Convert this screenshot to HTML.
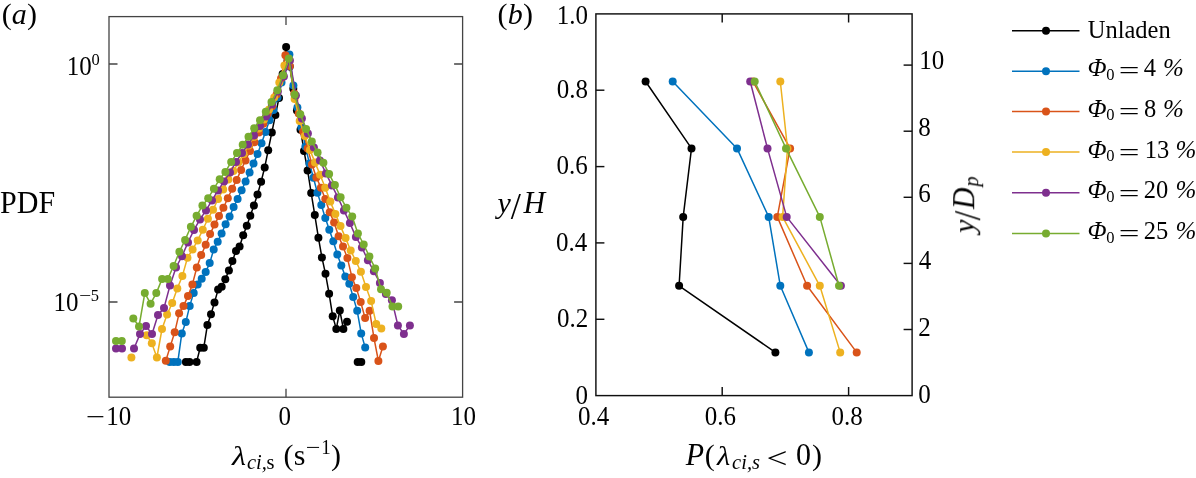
<!DOCTYPE html>
<html><head><meta charset="utf-8"><title>Figure</title>
<style>html,body{margin:0;padding:0;background:#fff}body{width:1196px;height:478px;overflow:hidden}</style></head>
<body>
<svg width="1196" height="478" viewBox="0 0 1196 478" style="display:block">
<rect width="1196" height="478" fill="#fff"/>
<polyline fill="none" stroke="#000000" stroke-width="1.50" stroke-linejoin="round" points="185.9,361.9 189.5,361.9"/>
<polyline fill="none" stroke="#000000" stroke-width="1.50" stroke-linejoin="round" points="196.6,361.9 200.2,347.7 203.8,347.7 207.4,324.9 211.0,314.3 214.5,302.4 218.1,289.6 221.7,286.7 225.3,279.2 228.9,270.4 232.4,260.9 236.0,250.9 239.6,246.4 243.2,235.3 246.8,225.8 250.3,215.8 253.9,205.6 257.5,194.6 261.1,181.8 264.7,167.4 268.2,150.2 271.8,132.6 275.4,115.1 279.0,97.9 282.6,73.9 286.1,46.9 289.7,66.4 293.3,88.8 296.9,110.4 300.5,129.7 304.0,150.9 307.6,170.4 311.2,193.1 314.8,215.1 318.4,237.7 321.9,257.4 325.5,273.8 329.1,293.7 332.7,316.3 336.3,328.9 339.8,310.5 343.4,328.9 347.0,321.7"/>
<polyline fill="none" stroke="#000000" stroke-width="1.50" stroke-linejoin="round" points="357.7,361.9 361.3,361.9"/>
<g fill="#000000"><circle cx="185.9" cy="361.9" r="4.0"/><circle cx="189.5" cy="361.9" r="4.0"/><circle cx="196.6" cy="361.9" r="4.0"/><circle cx="200.2" cy="347.7" r="4.0"/><circle cx="203.8" cy="347.7" r="4.0"/><circle cx="207.4" cy="324.9" r="4.0"/><circle cx="211.0" cy="314.3" r="4.0"/><circle cx="214.5" cy="302.4" r="4.0"/><circle cx="218.1" cy="289.6" r="4.0"/><circle cx="221.7" cy="286.7" r="4.0"/><circle cx="225.3" cy="279.2" r="4.0"/><circle cx="228.9" cy="270.4" r="4.0"/><circle cx="232.4" cy="260.9" r="4.0"/><circle cx="236.0" cy="250.9" r="4.0"/><circle cx="239.6" cy="246.4" r="4.0"/><circle cx="243.2" cy="235.3" r="4.0"/><circle cx="246.8" cy="225.8" r="4.0"/><circle cx="250.3" cy="215.8" r="4.0"/><circle cx="253.9" cy="205.6" r="4.0"/><circle cx="257.5" cy="194.6" r="4.0"/><circle cx="261.1" cy="181.8" r="4.0"/><circle cx="264.7" cy="167.4" r="4.0"/><circle cx="268.2" cy="150.2" r="4.0"/><circle cx="271.8" cy="132.6" r="4.0"/><circle cx="275.4" cy="115.1" r="4.0"/><circle cx="279.0" cy="97.9" r="4.0"/><circle cx="282.6" cy="73.9" r="4.0"/><circle cx="286.1" cy="46.9" r="4.0"/><circle cx="289.7" cy="66.4" r="4.0"/><circle cx="293.3" cy="88.8" r="4.0"/><circle cx="296.9" cy="110.4" r="4.0"/><circle cx="300.5" cy="129.7" r="4.0"/><circle cx="304.0" cy="150.9" r="4.0"/><circle cx="307.6" cy="170.4" r="4.0"/><circle cx="311.2" cy="193.1" r="4.0"/><circle cx="314.8" cy="215.1" r="4.0"/><circle cx="318.4" cy="237.7" r="4.0"/><circle cx="321.9" cy="257.4" r="4.0"/><circle cx="325.5" cy="273.8" r="4.0"/><circle cx="329.1" cy="293.7" r="4.0"/><circle cx="332.7" cy="316.3" r="4.0"/><circle cx="336.3" cy="328.9" r="4.0"/><circle cx="339.8" cy="310.5" r="4.0"/><circle cx="343.4" cy="328.9" r="4.0"/><circle cx="347.0" cy="321.7" r="4.0"/><circle cx="357.7" cy="361.9" r="4.0"/><circle cx="361.3" cy="361.9" r="4.0"/></g>
<polyline fill="none" stroke="#0072BD" stroke-width="1.50" stroke-linejoin="round" points="169.8,361.9 173.8,361.9 177.8,361.9 181.8,333.4 185.8,322.1 189.7,305.9 193.7,292.9 197.7,284.4 201.7,278.8 205.7,271.9 209.7,263.1 213.7,249.5 217.7,241.7 221.6,233.4 225.6,224.3 229.6,216.6 233.6,207.0 237.6,199.0 241.6,190.2 245.6,181.4 249.6,172.6 253.5,163.4 257.5,153.9 261.5,143.2 265.5,131.9 269.5,120.2 273.5,109.9 277.5,97.4 281.5,82.4 285.5,66.4 289.4,54.4 293.4,85.4 297.4,107.4 301.4,127.4 305.4,146.4 309.4,163.4 313.4,177.7 317.4,192.7 321.3,205.1 325.3,218.0 329.3,229.7 333.3,241.2 337.3,254.4 341.3,265.4 345.3,276.4 349.3,283.8 353.2,297.1 357.2,310.8 361.2,333.4 365.2,347.6"/>
<g fill="#0072BD"><circle cx="169.8" cy="361.9" r="4.0"/><circle cx="173.8" cy="361.9" r="4.0"/><circle cx="177.8" cy="361.9" r="4.0"/><circle cx="181.8" cy="333.4" r="4.0"/><circle cx="185.8" cy="322.1" r="4.0"/><circle cx="189.7" cy="305.9" r="4.0"/><circle cx="193.7" cy="292.9" r="4.0"/><circle cx="197.7" cy="284.4" r="4.0"/><circle cx="201.7" cy="278.8" r="4.0"/><circle cx="205.7" cy="271.9" r="4.0"/><circle cx="209.7" cy="263.1" r="4.0"/><circle cx="213.7" cy="249.5" r="4.0"/><circle cx="217.7" cy="241.7" r="4.0"/><circle cx="221.6" cy="233.4" r="4.0"/><circle cx="225.6" cy="224.3" r="4.0"/><circle cx="229.6" cy="216.6" r="4.0"/><circle cx="233.6" cy="207.0" r="4.0"/><circle cx="237.6" cy="199.0" r="4.0"/><circle cx="241.6" cy="190.2" r="4.0"/><circle cx="245.6" cy="181.4" r="4.0"/><circle cx="249.6" cy="172.6" r="4.0"/><circle cx="253.5" cy="163.4" r="4.0"/><circle cx="257.5" cy="153.9" r="4.0"/><circle cx="261.5" cy="143.2" r="4.0"/><circle cx="265.5" cy="131.9" r="4.0"/><circle cx="269.5" cy="120.2" r="4.0"/><circle cx="273.5" cy="109.9" r="4.0"/><circle cx="277.5" cy="97.4" r="4.0"/><circle cx="281.5" cy="82.4" r="4.0"/><circle cx="285.5" cy="66.4" r="4.0"/><circle cx="289.4" cy="54.4" r="4.0"/><circle cx="293.4" cy="85.4" r="4.0"/><circle cx="297.4" cy="107.4" r="4.0"/><circle cx="301.4" cy="127.4" r="4.0"/><circle cx="305.4" cy="146.4" r="4.0"/><circle cx="309.4" cy="163.4" r="4.0"/><circle cx="313.4" cy="177.7" r="4.0"/><circle cx="317.4" cy="192.7" r="4.0"/><circle cx="321.3" cy="205.1" r="4.0"/><circle cx="325.3" cy="218.0" r="4.0"/><circle cx="329.3" cy="229.7" r="4.0"/><circle cx="333.3" cy="241.2" r="4.0"/><circle cx="337.3" cy="254.4" r="4.0"/><circle cx="341.3" cy="265.4" r="4.0"/><circle cx="345.3" cy="276.4" r="4.0"/><circle cx="349.3" cy="283.8" r="4.0"/><circle cx="353.2" cy="297.1" r="4.0"/><circle cx="357.2" cy="310.8" r="4.0"/><circle cx="361.2" cy="333.4" r="4.0"/><circle cx="365.2" cy="347.6" r="4.0"/></g>
<polyline fill="none" stroke="#D95319" stroke-width="1.50" stroke-linejoin="round" points="165.8,360.8 170.2,346.6 174.7,332.3 179.1,313.3 183.5,305.9 188.0,296.1 192.4,284.4 196.8,267.5 201.2,255.1 205.7,244.8 210.1,234.1 214.5,224.6 219.0,216.1 223.4,207.8 227.8,198.2 232.2,188.7 236.7,179.9 241.1,169.9 245.5,160.5 250.0,150.9 254.4,142.2 258.8,132.6 263.3,123.8 267.7,113.6 272.1,106.3 276.6,94.4 281.0,78.4 285.4,55.2 289.8,65.9 294.3,93.4 298.7,113.4 303.1,131.4 307.6,148.4 312.0,164.4 316.4,177.4 320.9,187.7 325.3,199.0 329.7,212.2 334.1,222.4 338.6,236.2 343.0,246.4 347.4,258.1 351.9,277.2 356.3,288.1 360.7,302.1 365.1,318.0 369.6,310.8 374.0,338.1 378.4,361.0 382.9,346.5"/>
<g fill="#D95319"><circle cx="165.8" cy="360.8" r="4.0"/><circle cx="170.2" cy="346.6" r="4.0"/><circle cx="174.7" cy="332.3" r="4.0"/><circle cx="179.1" cy="313.3" r="4.0"/><circle cx="183.5" cy="305.9" r="4.0"/><circle cx="188.0" cy="296.1" r="4.0"/><circle cx="192.4" cy="284.4" r="4.0"/><circle cx="196.8" cy="267.5" r="4.0"/><circle cx="201.2" cy="255.1" r="4.0"/><circle cx="205.7" cy="244.8" r="4.0"/><circle cx="210.1" cy="234.1" r="4.0"/><circle cx="214.5" cy="224.6" r="4.0"/><circle cx="219.0" cy="216.1" r="4.0"/><circle cx="223.4" cy="207.8" r="4.0"/><circle cx="227.8" cy="198.2" r="4.0"/><circle cx="232.2" cy="188.7" r="4.0"/><circle cx="236.7" cy="179.9" r="4.0"/><circle cx="241.1" cy="169.9" r="4.0"/><circle cx="245.5" cy="160.5" r="4.0"/><circle cx="250.0" cy="150.9" r="4.0"/><circle cx="254.4" cy="142.2" r="4.0"/><circle cx="258.8" cy="132.6" r="4.0"/><circle cx="263.3" cy="123.8" r="4.0"/><circle cx="267.7" cy="113.6" r="4.0"/><circle cx="272.1" cy="106.3" r="4.0"/><circle cx="276.6" cy="94.4" r="4.0"/><circle cx="281.0" cy="78.4" r="4.0"/><circle cx="285.4" cy="55.2" r="4.0"/><circle cx="289.8" cy="65.9" r="4.0"/><circle cx="294.3" cy="93.4" r="4.0"/><circle cx="298.7" cy="113.4" r="4.0"/><circle cx="303.1" cy="131.4" r="4.0"/><circle cx="307.6" cy="148.4" r="4.0"/><circle cx="312.0" cy="164.4" r="4.0"/><circle cx="316.4" cy="177.4" r="4.0"/><circle cx="320.9" cy="187.7" r="4.0"/><circle cx="325.3" cy="199.0" r="4.0"/><circle cx="329.7" cy="212.2" r="4.0"/><circle cx="334.1" cy="222.4" r="4.0"/><circle cx="338.6" cy="236.2" r="4.0"/><circle cx="343.0" cy="246.4" r="4.0"/><circle cx="347.4" cy="258.1" r="4.0"/><circle cx="351.9" cy="277.2" r="4.0"/><circle cx="356.3" cy="288.1" r="4.0"/><circle cx="360.7" cy="302.1" r="4.0"/><circle cx="365.1" cy="318.0" r="4.0"/><circle cx="369.6" cy="310.8" r="4.0"/><circle cx="374.0" cy="338.1" r="4.0"/><circle cx="378.4" cy="361.0" r="4.0"/><circle cx="382.9" cy="346.5" r="4.0"/></g>
<polyline fill="none" stroke="#EDB120" stroke-width="1.50" stroke-linejoin="round" points="146.7,335.3 151.8,343.2 156.9,357.5 162.0,329.0 167.1,314.6 172.2,303.0 177.3,288.5 182.4,275.9 187.5,257.7 192.6,249.5 197.7,240.4 202.8,229.7 207.9,218.8 213.0,209.7 218.1,199.0 223.2,189.4 228.3,179.5 233.4,171.1 238.5,162.4 243.6,153.9 248.7,145.4 253.8,136.9 258.9,128.4 264.0,119.4 269.1,109.4 274.2,97.4 279.3,82.4 284.4,65.4 289.5,60.9 294.6,98.9 299.7,120.9 304.8,135.9 309.9,149.9 315.0,162.4 320.1,174.8 325.2,187.7 330.3,201.6 335.4,213.9 340.5,226.1 345.6,238.1 350.7,250.5 355.8,261.0 360.9,271.7 366.0,287.0 371.1,301.0 376.2,323.9 381.3,328.6"/>
<g fill="#EDB120"><circle cx="131.4" cy="357.5" r="4.0"/><circle cx="146.7" cy="335.3" r="4.0"/><circle cx="151.8" cy="343.2" r="4.0"/><circle cx="156.9" cy="357.5" r="4.0"/><circle cx="162.0" cy="329.0" r="4.0"/><circle cx="167.1" cy="314.6" r="4.0"/><circle cx="172.2" cy="303.0" r="4.0"/><circle cx="177.3" cy="288.5" r="4.0"/><circle cx="182.4" cy="275.9" r="4.0"/><circle cx="187.5" cy="257.7" r="4.0"/><circle cx="192.6" cy="249.5" r="4.0"/><circle cx="197.7" cy="240.4" r="4.0"/><circle cx="202.8" cy="229.7" r="4.0"/><circle cx="207.9" cy="218.8" r="4.0"/><circle cx="213.0" cy="209.7" r="4.0"/><circle cx="218.1" cy="199.0" r="4.0"/><circle cx="223.2" cy="189.4" r="4.0"/><circle cx="228.3" cy="179.5" r="4.0"/><circle cx="233.4" cy="171.1" r="4.0"/><circle cx="238.5" cy="162.4" r="4.0"/><circle cx="243.6" cy="153.9" r="4.0"/><circle cx="248.7" cy="145.4" r="4.0"/><circle cx="253.8" cy="136.9" r="4.0"/><circle cx="258.9" cy="128.4" r="4.0"/><circle cx="264.0" cy="119.4" r="4.0"/><circle cx="269.1" cy="109.4" r="4.0"/><circle cx="274.2" cy="97.4" r="4.0"/><circle cx="279.3" cy="82.4" r="4.0"/><circle cx="284.4" cy="65.4" r="4.0"/><circle cx="289.5" cy="60.9" r="4.0"/><circle cx="294.6" cy="98.9" r="4.0"/><circle cx="299.7" cy="120.9" r="4.0"/><circle cx="304.8" cy="135.9" r="4.0"/><circle cx="309.9" cy="149.9" r="4.0"/><circle cx="315.0" cy="162.4" r="4.0"/><circle cx="320.1" cy="174.8" r="4.0"/><circle cx="325.2" cy="187.7" r="4.0"/><circle cx="330.3" cy="201.6" r="4.0"/><circle cx="335.4" cy="213.9" r="4.0"/><circle cx="340.5" cy="226.1" r="4.0"/><circle cx="345.6" cy="238.1" r="4.0"/><circle cx="350.7" cy="250.5" r="4.0"/><circle cx="355.8" cy="261.0" r="4.0"/><circle cx="360.9" cy="271.7" r="4.0"/><circle cx="366.0" cy="287.0" r="4.0"/><circle cx="371.1" cy="301.0" r="4.0"/><circle cx="376.2" cy="323.9" r="4.0"/><circle cx="381.3" cy="328.6" r="4.0"/></g>
<polyline fill="none" stroke="#7E2F8E" stroke-width="1.50" stroke-linejoin="round" points="116.0,348.5 122.0,348.5"/>
<polyline fill="none" stroke="#7E2F8E" stroke-width="1.50" stroke-linejoin="round" points="134.0,348.5 140.0,334.1 146.0,326.0 152.0,334.1 158.0,315.1 164.0,307.9 170.0,285.5 176.0,267.5 182.0,256.2 188.0,242.4 194.0,229.9 200.0,219.4 206.0,210.4 212.0,200.4 218.0,190.4 224.0,181.4 230.0,172.4 236.0,161.9 242.0,153.0 248.0,144.6 254.0,135.6 260.0,126.0 266.0,116.4 271.9,104.4 277.9,91.4 283.9,76.4 289.9,60.4 295.9,95.4 301.9,118.4 307.9,133.4 313.9,147.4 319.9,160.4 325.9,173.4 331.9,185.4 337.9,197.4 343.9,210.4 349.9,223.1 355.9,236.9 361.9,247.4 367.9,260.3 373.9,271.3 379.9,283.0 385.9,293.9 391.9,300.2 397.9,325.5 403.9,333.9 409.9,325.5"/>
<g fill="#7E2F8E"><circle cx="116.0" cy="348.5" r="4.0"/><circle cx="122.0" cy="348.5" r="4.0"/><circle cx="134.0" cy="348.5" r="4.0"/><circle cx="140.0" cy="334.1" r="4.0"/><circle cx="146.0" cy="326.0" r="4.0"/><circle cx="152.0" cy="334.1" r="4.0"/><circle cx="158.0" cy="315.1" r="4.0"/><circle cx="164.0" cy="307.9" r="4.0"/><circle cx="170.0" cy="285.5" r="4.0"/><circle cx="176.0" cy="267.5" r="4.0"/><circle cx="182.0" cy="256.2" r="4.0"/><circle cx="188.0" cy="242.4" r="4.0"/><circle cx="194.0" cy="229.9" r="4.0"/><circle cx="200.0" cy="219.4" r="4.0"/><circle cx="206.0" cy="210.4" r="4.0"/><circle cx="212.0" cy="200.4" r="4.0"/><circle cx="218.0" cy="190.4" r="4.0"/><circle cx="224.0" cy="181.4" r="4.0"/><circle cx="230.0" cy="172.4" r="4.0"/><circle cx="236.0" cy="161.9" r="4.0"/><circle cx="242.0" cy="153.0" r="4.0"/><circle cx="248.0" cy="144.6" r="4.0"/><circle cx="254.0" cy="135.6" r="4.0"/><circle cx="260.0" cy="126.0" r="4.0"/><circle cx="266.0" cy="116.4" r="4.0"/><circle cx="271.9" cy="104.4" r="4.0"/><circle cx="277.9" cy="91.4" r="4.0"/><circle cx="283.9" cy="76.4" r="4.0"/><circle cx="289.9" cy="60.4" r="4.0"/><circle cx="295.9" cy="95.4" r="4.0"/><circle cx="301.9" cy="118.4" r="4.0"/><circle cx="307.9" cy="133.4" r="4.0"/><circle cx="313.9" cy="147.4" r="4.0"/><circle cx="319.9" cy="160.4" r="4.0"/><circle cx="325.9" cy="173.4" r="4.0"/><circle cx="331.9" cy="185.4" r="4.0"/><circle cx="337.9" cy="197.4" r="4.0"/><circle cx="343.9" cy="210.4" r="4.0"/><circle cx="349.9" cy="223.1" r="4.0"/><circle cx="355.9" cy="236.9" r="4.0"/><circle cx="361.9" cy="247.4" r="4.0"/><circle cx="367.9" cy="260.3" r="4.0"/><circle cx="373.9" cy="271.3" r="4.0"/><circle cx="379.9" cy="283.0" r="4.0"/><circle cx="385.9" cy="293.9" r="4.0"/><circle cx="391.9" cy="300.2" r="4.0"/><circle cx="397.9" cy="325.5" r="4.0"/><circle cx="403.9" cy="333.9" r="4.0"/><circle cx="409.9" cy="325.5" r="4.0"/></g>
<polyline fill="none" stroke="#77AC30" stroke-width="1.50" stroke-linejoin="round" points="116.0,341.1 121.8,341.1"/>
<polyline fill="none" stroke="#77AC30" stroke-width="1.50" stroke-linejoin="round" points="133.3,318.4 139.0,326.5 144.8,293.1 150.6,303.7 156.3,293.1 162.1,278.9 167.8,278.9 173.6,266.0 179.4,251.8 185.1,239.9 190.9,226.8 196.6,215.8 202.4,205.6 208.2,198.2 213.9,188.7 219.7,179.2 225.4,171.9 231.2,161.9 237.0,153.1 242.7,144.8 248.5,136.7 254.2,128.2 260.0,120.2 265.8,111.8 271.5,102.1 277.3,90.3 283.0,75.2 288.8,58.5 294.6,94.7 300.3,114.3 306.1,129.0 311.8,141.4 317.6,152.4 323.4,162.7 329.1,174.1 334.9,185.1 340.6,197.2 346.4,207.8 352.2,216.6 357.9,233.4 363.7,244.5 369.4,256.6 375.2,268.4 381.0,289.3 386.7,292.8 392.5,306.4 398.2,306.4"/>
<g fill="#77AC30"><circle cx="116.0" cy="341.1" r="4.0"/><circle cx="121.8" cy="341.1" r="4.0"/><circle cx="133.3" cy="318.4" r="4.0"/><circle cx="139.0" cy="326.5" r="4.0"/><circle cx="144.8" cy="293.1" r="4.0"/><circle cx="150.6" cy="303.7" r="4.0"/><circle cx="156.3" cy="293.1" r="4.0"/><circle cx="162.1" cy="278.9" r="4.0"/><circle cx="167.8" cy="278.9" r="4.0"/><circle cx="173.6" cy="266.0" r="4.0"/><circle cx="179.4" cy="251.8" r="4.0"/><circle cx="185.1" cy="239.9" r="4.0"/><circle cx="190.9" cy="226.8" r="4.0"/><circle cx="196.6" cy="215.8" r="4.0"/><circle cx="202.4" cy="205.6" r="4.0"/><circle cx="208.2" cy="198.2" r="4.0"/><circle cx="213.9" cy="188.7" r="4.0"/><circle cx="219.7" cy="179.2" r="4.0"/><circle cx="225.4" cy="171.9" r="4.0"/><circle cx="231.2" cy="161.9" r="4.0"/><circle cx="237.0" cy="153.1" r="4.0"/><circle cx="242.7" cy="144.8" r="4.0"/><circle cx="248.5" cy="136.7" r="4.0"/><circle cx="254.2" cy="128.2" r="4.0"/><circle cx="260.0" cy="120.2" r="4.0"/><circle cx="265.8" cy="111.8" r="4.0"/><circle cx="271.5" cy="102.1" r="4.0"/><circle cx="277.3" cy="90.3" r="4.0"/><circle cx="283.0" cy="75.2" r="4.0"/><circle cx="288.8" cy="58.5" r="4.0"/><circle cx="294.6" cy="94.7" r="4.0"/><circle cx="300.3" cy="114.3" r="4.0"/><circle cx="306.1" cy="129.0" r="4.0"/><circle cx="311.8" cy="141.4" r="4.0"/><circle cx="317.6" cy="152.4" r="4.0"/><circle cx="323.4" cy="162.7" r="4.0"/><circle cx="329.1" cy="174.1" r="4.0"/><circle cx="334.9" cy="185.1" r="4.0"/><circle cx="340.6" cy="197.2" r="4.0"/><circle cx="346.4" cy="207.8" r="4.0"/><circle cx="352.2" cy="216.6" r="4.0"/><circle cx="357.9" cy="233.4" r="4.0"/><circle cx="363.7" cy="244.5" r="4.0"/><circle cx="369.4" cy="256.6" r="4.0"/><circle cx="375.2" cy="268.4" r="4.0"/><circle cx="381.0" cy="289.3" r="4.0"/><circle cx="386.7" cy="292.8" r="4.0"/><circle cx="392.5" cy="306.4" r="4.0"/><circle cx="398.2" cy="306.4" r="4.0"/></g>
<g stroke="#444444" stroke-width="1.3" fill="none">
<rect x="109.0" y="16.6" width="353.6" height="380.6"/>
<path d="M286.0 16.6v8.5 M286.0 397.2v-8.5"/>
<path d="M109.0 64.0h8.5 M462.6 64.0h-8.5"/>
<path d="M109.0 302.0h8.5 M462.6 302.0h-8.5"/>
</g>
<polyline fill="none" stroke="#000000" stroke-width="1.50" stroke-linejoin="round" points="645.6,81.5 691.5,148.4 683.2,216.9 679.1,285.8 775.4,352.4"/>
<g fill="#000000"><circle cx="645.6" cy="81.5" r="4.0"/><circle cx="691.5" cy="148.4" r="4.0"/><circle cx="683.2" cy="216.9" r="4.0"/><circle cx="679.1" cy="285.8" r="4.0"/><circle cx="775.4" cy="352.4" r="4.0"/></g>
<polyline fill="none" stroke="#0072BD" stroke-width="1.50" stroke-linejoin="round" points="672.7,81.5 737.0,148.4 768.7,216.9 780.3,285.8 808.9,352.4"/>
<g fill="#0072BD"><circle cx="672.7" cy="81.5" r="4.0"/><circle cx="737.0" cy="148.4" r="4.0"/><circle cx="768.7" cy="216.9" r="4.0"/><circle cx="780.3" cy="285.8" r="4.0"/><circle cx="808.9" cy="352.4" r="4.0"/></g>
<polyline fill="none" stroke="#D95319" stroke-width="1.50" stroke-linejoin="round" points="752.9,81.5 790.1,148.4 777.3,216.9 807.1,285.8 856.7,352.4"/>
<g fill="#D95319"><circle cx="752.9" cy="81.5" r="4.0"/><circle cx="790.1" cy="148.4" r="4.0"/><circle cx="777.3" cy="216.9" r="4.0"/><circle cx="807.1" cy="285.8" r="4.0"/><circle cx="856.7" cy="352.4" r="4.0"/></g>
<polyline fill="none" stroke="#EDB120" stroke-width="1.50" stroke-linejoin="round" points="780.3,81.5 787.5,148.4 782.6,216.9 819.8,285.8 840.2,352.4"/>
<g fill="#EDB120"><circle cx="780.3" cy="81.5" r="4.0"/><circle cx="787.5" cy="148.4" r="4.0"/><circle cx="782.6" cy="216.9" r="4.0"/><circle cx="819.8" cy="285.8" r="4.0"/><circle cx="840.2" cy="352.4" r="4.0"/></g>
<polyline fill="none" stroke="#7E2F8E" stroke-width="1.50" stroke-linejoin="round" points="750.2,81.5 767.5,148.4 786.7,216.9 840.9,285.8"/>
<g fill="#7E2F8E"><circle cx="750.2" cy="81.5" r="4.0"/><circle cx="767.5" cy="148.4" r="4.0"/><circle cx="786.7" cy="216.9" r="4.0"/><circle cx="840.9" cy="285.8" r="4.0"/></g>
<polyline fill="none" stroke="#77AC30" stroke-width="1.50" stroke-linejoin="round" points="754.7,81.5 786.0,148.4 819.8,216.9 839.0,285.8"/>
<g fill="#77AC30"><circle cx="754.7" cy="81.5" r="4.0"/><circle cx="786.0" cy="148.4" r="4.0"/><circle cx="819.8" cy="216.9" r="4.0"/><circle cx="839.0" cy="285.8" r="4.0"/></g>
<g stroke="#101010" stroke-width="1.45" fill="none">
<rect x="595.9" y="13.9" width="316.2" height="381.7"/>
<path d="M722.2 13.9v8.5 M722.2 395.6v-8.5"/>
<path d="M848.6 13.9v8.5 M848.6 395.6v-8.5"/>
<path d="M595.9 319.3h8.5"/>
<path d="M595.9 242.9h8.5"/>
<path d="M595.9 166.6h8.5"/>
<path d="M595.9 90.2h8.5"/>
<path d="M912.1 329.5h-8.5"/>
<path d="M912.1 263.4h-8.5"/>
<path d="M912.1 197.3h-8.5"/>
<path d="M912.1 131.2h-8.5"/>
<path d="M912.1 65.1h-8.5"/>
</g>
<path d="M1012 30.7H1079.5" stroke="#000000" stroke-width="1.50"/><circle cx="1046" cy="30.7" r="4.0" fill="#000000"/>
<path d="M1012 71.3H1079.5" stroke="#0072BD" stroke-width="1.50"/><circle cx="1046" cy="71.3" r="4.0" fill="#0072BD"/>
<path d="M1012 111.6H1079.5" stroke="#D95319" stroke-width="1.50"/><circle cx="1046" cy="111.6" r="4.0" fill="#D95319"/>
<path d="M1012 152.1H1079.5" stroke="#EDB120" stroke-width="1.50"/><circle cx="1046" cy="152.1" r="4.0" fill="#EDB120"/>
<path d="M1012 192.8H1079.5" stroke="#7E2F8E" stroke-width="1.50"/><circle cx="1046" cy="192.8" r="4.0" fill="#7E2F8E"/>
<path d="M1012 233.4H1079.5" stroke="#77AC30" stroke-width="1.50"/><circle cx="1046" cy="233.4" r="4.0" fill="#77AC30"/>
<g font-family="'Liberation Serif','Times New Roman',serif" fill="#000" opacity="0.999">
<text transform="translate(1.65,24.30) scale(1.000,1.000)" font-size="30">(</text>
<text transform="translate(11.65,24.30) scale(1.000,1.000)" font-size="30" font-style="italic">a</text>
<text transform="translate(27.00,24.30) scale(1.000,1.000)" font-size="30">)</text>
<text transform="translate(497.55,24.30) scale(1.000,1.000)" font-size="30">(</text>
<text transform="translate(507.80,24.30) scale(1.000,1.000)" font-size="30" font-style="italic">b</text>
<text transform="translate(522.90,24.30) scale(1.000,1.000)" font-size="30">)</text>
<text transform="translate(0.05,213.00) scale(1.000,1.050)" font-size="30">PDF</text>
<text transform="translate(66.65,74.60) scale(1.000,1.050)" font-size="25">10</text>
<text transform="translate(91.50,65.00) scale(1.000,1.050)" font-size="16.5">0</text>
<text transform="translate(53.45,310.50) scale(1.000,1.050)" font-size="25">10</text>
<text transform="translate(78.92,300.90) scale(1.303,1.000)" font-size="16.5">−</text>
<text transform="translate(90.70,300.90) scale(1.000,1.050)" font-size="16.5">5</text>
<text transform="translate(85.70,425.40) scale(1.362,1.000)" font-size="25">−</text>
<text transform="translate(106.25,425.40) scale(1.000,1.050)" font-size="25">10</text>
<text transform="translate(278.60,425.40) scale(1.000,1.050)" font-size="25">0</text>
<text transform="translate(450.95,425.40) scale(1.000,1.050)" font-size="25">10</text>
<text transform="translate(232.00,464.90) scale(1.200,1.000)" font-size="27" font-style="italic">λ</text>
<text transform="translate(247.00,468.80) scale(1.000,1.000)" font-size="20.5" font-style="italic">ci,</text>
<text transform="translate(266.55,468.80) scale(1.000,1.000)" font-size="20.5">s</text>
<text transform="translate(283.55,464.90) scale(1.000,1.000)" font-size="30">(</text>
<text transform="translate(293.65,464.90) scale(1.000,1.000)" font-size="30">s</text>
<text transform="translate(305.74,454.00) scale(1.263,1.000)" font-size="20.5">−</text>
<text transform="translate(321.25,454.00) scale(1.000,1.050)" font-size="19">1</text>
<text transform="translate(331.00,464.90) scale(1.000,1.000)" font-size="30">)</text>
<text transform="translate(575.50,403.80) scale(1.000,1.050)" font-size="25">0</text>
<text transform="translate(557.00,326.94) scale(1.000,1.050)" font-size="25">0.2</text>
<text transform="translate(556.00,250.68) scale(1.000,1.050)" font-size="25">0.4</text>
<text transform="translate(556.50,174.42) scale(1.000,1.050)" font-size="25">0.6</text>
<text transform="translate(556.75,98.16) scale(1.000,1.050)" font-size="25">0.8</text>
<text transform="translate(556.75,23.50) scale(1.000,1.050)" font-size="25">1.0</text>
<text transform="translate(918.30,402.50) scale(1.000,1.050)" font-size="25">0</text>
<text transform="translate(918.30,335.76) scale(1.000,1.050)" font-size="25">2</text>
<text transform="translate(918.80,269.02) scale(1.000,1.050)" font-size="25">4</text>
<text transform="translate(918.30,202.28) scale(1.000,1.050)" font-size="25">6</text>
<text transform="translate(918.30,135.54) scale(1.000,1.050)" font-size="25">8</text>
<text transform="translate(919.15,68.80) scale(1.000,1.050)" font-size="25">10</text>
<text transform="translate(578.10,425.20) scale(1.000,1.050)" font-size="25">0.4</text>
<text transform="translate(704.75,425.20) scale(1.000,1.050)" font-size="25">0.6</text>
<text transform="translate(831.58,425.20) scale(1.000,1.050)" font-size="25">0.8</text>
<text transform="translate(497.50,212.90) scale(1.000,1.000)" font-size="30" font-style="italic">y</text>
<text transform="translate(510.70,218.60) scale(0.962,1.000)" font-size="38">/</text>
<text transform="translate(523.55,212.90) scale(1.000,1.050)" font-size="30" font-style="italic">H</text>
<text transform="translate(685.65,465.10) scale(1.000,1.050)" font-size="30" font-style="italic">P</text>
<text transform="translate(704.65,465.10) scale(1.000,1.000)" font-size="30">(</text>
<text transform="translate(717.05,465.10) scale(1.132,1.000)" font-size="27" font-style="italic">λ</text>
<text transform="translate(732.10,468.80) scale(1.000,1.000)" font-size="20.5" font-style="italic">ci,s</text>
<text transform="translate(766.44,467.60) scale(1.243,1.000)" font-size="30">&lt;</text>
<text transform="translate(796.10,465.10) scale(1.000,1.050)" font-size="30">0</text>
<text transform="translate(812.10,465.10) scale(1.000,1.000)" font-size="30">)</text>
<text transform="translate(1087.70,38.20) scale(1.000,1.050)" font-size="24.5">Unladen</text>
<text transform="translate(1087.45,76.00) scale(1.000,1.000)" font-size="25" font-style="italic">Φ</text>
<text transform="translate(1106.20,79.70) scale(1.000,1.000)" font-size="16.5">0</text>
<text transform="translate(1118.86,79.20) scale(1.472,1.000)" font-size="25">=</text>
<text transform="translate(1143.70,76.00) scale(1.000,1.000)" font-size="24.5">4</text>
<text transform="translate(1163.10,76.00) scale(1.000,1.000)" font-size="25" font-style="italic">%</text>
<text transform="translate(1087.45,116.70) scale(1.000,1.000)" font-size="25" font-style="italic">Φ</text>
<text transform="translate(1106.20,120.40) scale(1.000,1.000)" font-size="16.5">0</text>
<text transform="translate(1118.86,119.90) scale(1.472,1.000)" font-size="25">=</text>
<text transform="translate(1144.00,116.70) scale(1.000,1.000)" font-size="24.5">8</text>
<text transform="translate(1163.10,116.70) scale(1.000,1.000)" font-size="25" font-style="italic">%</text>
<text transform="translate(1087.45,157.50) scale(1.000,1.000)" font-size="25" font-style="italic">Φ</text>
<text transform="translate(1106.20,161.20) scale(1.000,1.000)" font-size="16.5">0</text>
<text transform="translate(1118.86,160.70) scale(1.472,1.000)" font-size="25">=</text>
<text transform="translate(1144.65,157.50) scale(1.000,1.000)" font-size="24.5">13</text>
<text transform="translate(1175.50,157.50) scale(1.000,1.000)" font-size="25" font-style="italic">%</text>
<text transform="translate(1087.45,198.30) scale(1.000,1.000)" font-size="25" font-style="italic">Φ</text>
<text transform="translate(1106.20,202.00) scale(1.000,1.000)" font-size="16.5">0</text>
<text transform="translate(1118.86,201.50) scale(1.472,1.000)" font-size="25">=</text>
<text transform="translate(1143.80,198.30) scale(1.000,1.000)" font-size="24.5">20</text>
<text transform="translate(1175.50,198.30) scale(1.000,1.000)" font-size="25" font-style="italic">%</text>
<text transform="translate(1087.45,238.80) scale(1.000,1.000)" font-size="25" font-style="italic">Φ</text>
<text transform="translate(1106.20,242.50) scale(1.000,1.000)" font-size="16.5">0</text>
<text transform="translate(1118.86,242.00) scale(1.472,1.000)" font-size="25">=</text>
<text transform="translate(1143.80,238.80) scale(1.000,1.000)" font-size="24.5">25</text>
<text transform="translate(1175.50,238.80) scale(1.000,1.000)" font-size="25" font-style="italic">%</text>
<g transform="translate(974.2,235.4) rotate(-90)">
<text transform="translate(2.50,0.00) scale(1.000,1.000)" font-size="30" font-style="italic">y</text>
<text transform="translate(14.90,5.70) scale(0.914,1.000)" font-size="38">/</text>
<text transform="translate(26.15,0.00) scale(1.000,1.050)" font-size="30" font-style="italic">D</text>
<text transform="translate(48.85,4.40) scale(1.000,1.000)" font-size="20.5" font-style="italic">p</text>
</g></g></svg>
</body></html>
